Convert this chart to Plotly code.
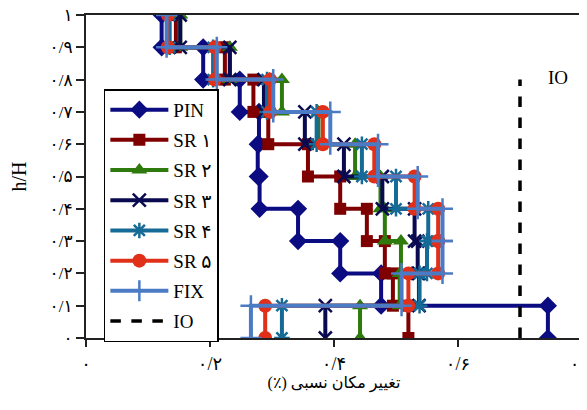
import plotly.graph_objects as go

# Story levels (h/H)
HEIGHTS = [0.0, 0.1, 0.2, 0.3, 0.4, 0.5, 0.6, 0.7, 0.8, 0.9, 1.0]

# Relative drift per story (story 1 at bottom -> story 10 at top)
PIN = [0.745, 0.476, 0.410, 0.342, 0.280, 0.277, 0.279, 0.248, 0.189, 0.122]
SR1 = [0.520, 0.495, 0.482, 0.453, 0.410, 0.358, 0.294, 0.270, 0.224, 0.145]
SR2 = [0.442, 0.506, 0.508, 0.482, 0.475, 0.434, 0.375, 0.316, 0.232, 0.152]
SR3 = [0.386, 0.537, 0.535, 0.530, 0.478, 0.416, 0.353, 0.287, 0.232, 0.152]
SR4 = [0.316, 0.538, 0.550, 0.552, 0.500, 0.445, 0.372, 0.292, 0.205, 0.135]
SR5 = [0.289, 0.520, 0.568, 0.568, 0.530, 0.465, 0.382, 0.297, 0.208, 0.132]
FIX = [0.266, 0.509, 0.575, 0.575, 0.535, 0.471, 0.394, 0.302, 0.211, 0.130]

IO_X = [0.70, 0.70]
IO_Y = [0.0, 0.80]

X_TICKS = [0, 0.2, 0.4, 0.6, 0.8]
X_TICK_LABELS = ["۰", "۰/۲", "۰/۴", "۰/۶", "۰/۸"]
Y_TICKS = [0, 0.1, 0.2, 0.3, 0.4, 0.5, 0.6, 0.7, 0.8, 0.9, 1.0]
Y_TICK_LABELS = ["۰", "۰/۱", "۰/۲", "۰/۳", "۰/۴", "۰/۵", "۰/۶", "۰/۷", "۰/۸", "۰/۹", "۱"]

SERIES = [
    ("PIN", PIN, "#0b0b82", "diamond", 14, None),
    ("SR ۱", SR1, "#7f0000", "square", 12, None),
    ("SR ۲", SR2, "#2e7a0c", "triangle-up", 14, None),
    ("SR ۳", SR3, "#0a0a50", "x-thin", 13, 2.5),
    ("SR ۴", SR4, "#156a96", "asterisk-open", 13, 2.5),
    ("SR ۵", SR5, "#e0301a", "circle", 14, None),
    ("FIX", FIX, "#4b7bc4", "cross-thin", 15, 2.5),
]


def steps(drifts):
    xs, ys = [], []
    for i, d in enumerate(drifts):
        xs += [d, d]
        ys += [HEIGHTS[i], HEIGHTS[i + 1]]
    return xs, ys


fig = go.Figure()
for i, (name, vals, color, sym, size, mlw) in enumerate(SERIES):
    xs, ys = steps(vals)
    marker = dict(symbol=sym, size=size, color=color)
    if mlw:
        marker["line"] = dict(color=color, width=mlw)
    fig.add_trace(go.Scatter(
        x=xs, y=ys, mode="lines+markers", name=name,
        line=dict(color=color, width=4),
        marker=marker, legendgroup=str(i),
    ))

fig.add_trace(go.Scatter(
    x=IO_X, y=IO_Y, mode="lines", name="IO",
    line=dict(color="black", width=3.5, dash="dash"), legendgroup="io",
))

fig.add_annotation(x=0.762, y=0.805, text="IO", showarrow=False,
                   font=dict(family="Liberation Serif", size=19, color="black"))

FONT = "Liberation Serif, DejaVu Sans"

# page body adds an 8px offset, so the figure is 8px smaller than the window
fig.update_layout(
    width=579, height=402,
    margin=dict(l=78, r=5, t=7, b=72),
    paper_bgcolor="white", plot_bgcolor="white",
    font=dict(family=FONT, color="black", size=15),
    showlegend=True,
    legend=dict(
        x=0.036, y=0.770, xanchor="left", yanchor="top",
        bgcolor="white", bordercolor="black", borderwidth=1.5,
        font=dict(family=FONT, size=19, color="black"),
        tracegroupgap=2.5, itemwidth=58,
        entrywidth=63, entrywidthmode="pixels",
    ),
    xaxis=dict(
        range=[0, 0.8], tickvals=X_TICKS, ticktext=X_TICK_LABELS,
        showgrid=False, zeroline=False, automargin=False,
        showline=True, linecolor="#222", linewidth=2, mirror=True,
        ticks="outside", ticklen=7, tickwidth=1.5, tickcolor="#222",
        ticklabelstandoff=1, ticklabeloverflow="allow",
        tickfont=dict(family=FONT, size=18),
        title=dict(text="\u200fتغییر مکان نسبی (٪)\u200f", standoff=4,
                   font=dict(family=FONT, size=16)),
    ),
    yaxis=dict(
        range=[0, 1], tickvals=Y_TICKS, ticktext=Y_TICK_LABELS,
        showgrid=False, zeroline=False, automargin=False,
        showline=True, linecolor="#222", linewidth=2, mirror=True,
        ticks="outside", ticklen=8, tickwidth=1.5, tickcolor="#222",
        ticklabeloverflow="allow",
        tickfont=dict(family=FONT, size=17),
        title=dict(text="h/H", standoff=18,
                   font=dict(family="Liberation Serif", size=20)),
    ),
)

fig.write_html("out.html")
